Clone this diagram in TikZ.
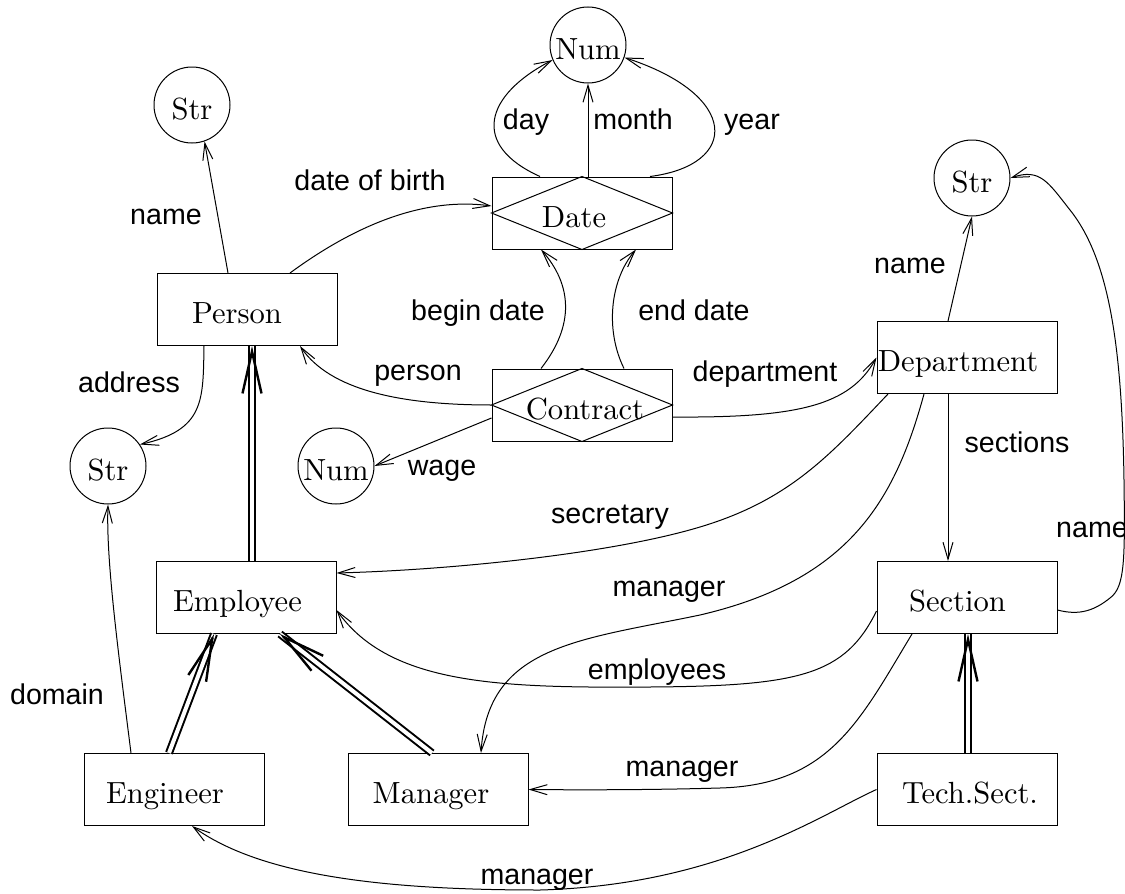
\documentclass[tikz,border=0pt]{standalone}
\usepackage{fontspec}
\setsansfont{Liberation Sans}
\newfontfamily\entfont{lmroman10-regular.otf}
\usetikzlibrary{arrows.meta,calc}
\tikzset{
  ent/.style={draw, line width=0.5pt, minimum width=90pt, minimum height=36pt, inner sep=0pt,
    font=\entfont\fontsize{15.3}{18}\selectfont, text height=15pt, text depth=0.6pt},
  val/.style={draw, circle, line width=0.5pt, minimum size=38pt, inner sep=0pt,
    font=\entfont\fontsize{15.3}{18}\selectfont, text height=15pt, text depth=0.6pt},
  lbl/.style={font=\sffamily\fontsize{14.3}{16}\selectfont, anchor=mid, inner sep=0pt},
  conn/.style={line width=0.5pt, -{Straight Barb[length=8.5pt,width=5pt]}},
  isa/.style={double, double distance=2pt, line width=1pt},
  isatip/.style={line width=1.2pt, -{Straight Barb[length=21pt,width=9.5pt]}},
  dia/.style={line width=0.5pt},
}
\begin{document}
\begin{tikzpicture}[x=0.5pt, y=-0.5pt]
\useasboundingbox (0,0) rectangle (1125,894);
% nodes
\node[val] (numT) at (588,45) {Num};
\node[ent] (date) at (582,213) {Date\hspace*{8pt}};
\node[val] (strA) at (192,105) {Str};
\node[ent] (person) at (247,309.5) {Person\hspace*{10pt}};
\node[val] (strB) at (108,466) {Str};
\node[val] (numB) at (336,466) {Num};
\node[ent] (contract) at (582,405) {\hspace*{3pt}Contract};
\node[val] (strC) at (972,178) {Str};
\node[ent] (dept) at (967,357.5) {Department\hspace*{9pt}};
\node[ent] (section) at (967,597.5) {Section\hspace*{9.5pt}};
\node[ent] (employee) at (246,597.5) {Employee\hspace*{8.5pt}};
\node[ent] (engineer) at (174,789.5) {Engineer\hspace*{9pt}};
\node[ent] (manager) at (438,789.5) {Manager\hspace*{7pt}};
\node[ent] (tech) at (967,789.5) {\hspace*{3pt}Tech.Sect.};
% diamonds
\draw[dia] (date.north) -- (date.east) -- (date.south) -- (date.west) -- cycle;
\draw[dia] (contract.north) -- (contract.east) -- (contract.south) -- (contract.west) -- cycle;
% labels
\node[lbl] (lname1) at (166,220) {name};
\node[lbl] (ldob) at (370,186) {date of birth};
\node[lbl] (laddr) at (129,388) {address};
\node[lbl] (lday) at (526,125) {day};
\node[lbl] (lmonth) at (633,125) {month};
\node[lbl] (lyear) at (752,125) {year};
\node[lbl] (lbegin) at (478,316) {begin date};
\node[lbl] (lend) at (694,316) {end date};
\node[lbl] (lperson) at (418,376) {person};
\node[lbl] (lwage) at (442,471) {wage};
\node[lbl] (ldept) at (765,377) {department};
\node[lbl] (lname2) at (910,269) {name};
\node[lbl] (lsections) at (1017,448) {sections};
\node[lbl] (lname3) at (1092,533) {name};
\node[lbl] (lsecr) at (610,519) {secretary};
\node[lbl] (lman1) at (669,592) {manager};
\node[lbl] (lempl) at (657,675) {employees};
\node[lbl] (lman2) at (682,772) {manager};
\node[lbl] (lman3) at (537,880) {manager};
\node[lbl] (ldomain) at (57,700) {domain};
% connectors
\draw[conn] ([xshift=-9.5pt]person.north) -- (strA.-71);
\draw[conn] ([xshift=21.5pt]person.north) .. controls (335,240) and (410,195) .. ([yshift=3.5pt]date.west);
\draw[conn] ([xshift=-21.5pt]person.south) .. controls (203,400) and (205,430) .. (strB.34);
\draw[conn] ([xshift=-21pt]date.north) .. controls (470,145) and (485,95) .. (numT.203);
\draw[conn] ([xshift=3pt]date.north) -- (numT.south);
\draw[conn] ([xshift=34pt]date.north) .. controls (740,165) and (740,95) .. (numT.-19);
\draw[conn] ([xshift=-20.5pt]contract.north) .. controls (575,325) and (572,285) .. ([xshift=-20.5pt]date.south);
\draw[conn] ([xshift=21pt]contract.north) .. controls (605,330) and (610,280) .. ([xshift=27pt]date.south);
\draw[conn] (contract.west) .. controls (400,405) and (330,390) .. ([xshift=26.5pt]person.south);
\draw[conn] ([yshift=-6.5pt]contract.west) -- (numB.east);
\draw[conn] ([yshift=-6pt]contract.east) .. controls (800,418) and (850,405) .. (dept.west);
\draw[conn] ([xshift=-9.5pt]dept.north) -- (strC.south);
\draw[conn] ([xshift=-9.5pt]dept.south) -- ([xshift=-9.5pt]section.north);
\draw[conn] ([yshift=-6.25pt]section.east) .. controls (1080,616) and (1095,610) .. (1110,598)
  .. controls (1125,587) and (1125,560) .. (1124,480)
  .. controls (1122,350) and (1110,260) .. (1070,210)
  .. controls (1048,182) and (1040,168) .. (strC.east);
\draw[conn] ([xshift=-39.5pt]dept.south) .. controls (830,455) and (790,500) .. (700,527)
  .. controls (610,554) and (450,570) .. ([yshift=12.25pt]employee.east);
\draw[conn] ([xshift=-21.5pt]dept.south) .. controls (895,500) and (850,580) .. (700,615)
  .. controls (580,640) and (488,645) .. ([xshift=21.5pt]manager.north);
\draw[conn] ([yshift=-6.75pt]section.west) .. controls (845,675) and (800,686) .. (650,687)
  .. controls (500,688) and (390,685) .. ([yshift=-6.25pt]employee.east);
\draw[conn] ([xshift=-27.5pt]section.south) .. controls (860,720) and (830,785) .. (720,788)
  .. controls (650,790) and (580,790) .. (manager.east);
\draw[conn] (tech.west) .. controls (820,815) and (720,885) .. (540,890)
  .. controls (380,890) and (260,875) .. ([xshift=9pt]engineer.south);
\draw[conn] ([xshift=-21.5pt]engineer.north) .. controls (118,650) and (106,560) .. (strB.south);
% isa
\coordinate (ea) at ([xshift=3pt]employee.north);
\coordinate (pb) at ([xshift=2.5pt]person.south);
\coordinate (ga) at ([xshift=-2.5pt]engineer.north);
\coordinate (eb1) at ([xshift=-16pt]employee.south);
\coordinate (ma) at ([xshift=-3pt]manager.north);
\coordinate (eb2) at ([xshift=17pt]employee.south);
\coordinate (ta) at ([xshift=0.5pt]tech.north);
\coordinate (sb) at ([xshift=0.5pt]section.south);
\draw[isa] (ea) -- (pb);
\draw[isatip] ($(pb)!2pt!(ea)$) -- (pb);
\draw[isa] (ga) -- (eb1);
\draw[isatip] ($(eb1)!2pt!(ga)$) -- (eb1);
\draw[isa] (ma) -- (eb2);
\draw[isatip] ($(eb2)!2pt!(ma)$) -- (eb2);
\draw[isa] (ta) -- (sb);
\draw[isatip] ($(sb)!2pt!(ta)$) -- (sb);
\end{tikzpicture}
\end{document}
